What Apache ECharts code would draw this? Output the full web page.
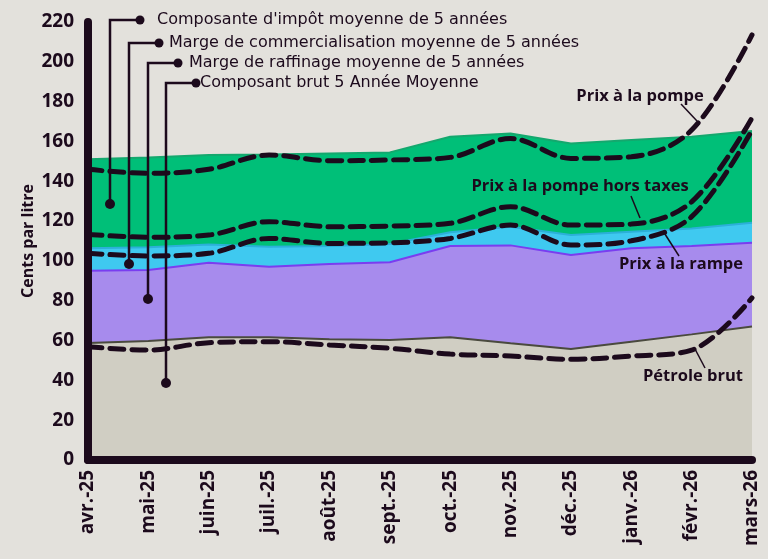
<!DOCTYPE html>
<html>
<head>
<meta charset="utf-8">
<script src="https://cdn.jsdelivr.net/npm/echarts@6/dist/echarts.min.js"></script>
<style>
  html, body { margin: 0; padding: 0; background: #e3e1dc; }
  #chart { width: 768px; height: 559px; }
</style>
</head>
<body>
<div id="chart"></div>
<script>
// categories
const months = ["avr.-25", "mai-25", "juin-25", "juil.-25", "août-25", "sept.-25",
  "oct.-25", "nov.-25", "déc.-25", "janv.-26", "févr.-26", "mars-26"];

// 5-year average components (stacked areas)
const brutMoy = [58.8, 59.8, 61.6, 61.6, 60.6, 60.3, 61.7, 58.6, 55.7, 59.4, 63.1, 67.0];
const raffinageMoy = [36.3, 35.6, 37.5, 35.5, 37.8, 39.0, 45.8, 49.2, 47.3, 46.9, 44.4, 42.1];
const commercMoy = [11.2, 11.4, 9.2, 10.0, 9.1, 9.2, 6.9, 9.4, 10.0, 8.4, 8.8, 10.1];
const impotMoy = [44.7, 45.2, 44.9, 46.4, 46.5, 46.0, 48.0, 46.8, 46.0, 46.0, 46.1, 46.0];

// current prices (dashed lines)
const prixPompe = [146, 144, 146, 153.2, 150.3, 150.7, 152, 161.5, 151.5, 152.3, 165.7, 213.5];
const prixHorsTaxes = [113.3, 111.9, 113, 119.7, 117.2, 117.5, 118.9, 127.2, 118, 118.5, 129.7, 171.8];
const prixRampe = [103.8, 102.5, 103.8, 111.3, 108.8, 109.1, 111.3, 118, 108, 110.1, 122.2, 165.7];
const petroleBrut = [56.9, 55.2, 58.9, 59.4, 57.8, 56.1, 53.2, 52.2, 50.6, 52.2, 55.2, 81.4];

const ink = "#1c0a1c";
const fontFamily = "Open Sans";

let chart = echarts.init(document.getElementById("chart"));

function areaSeries(name, data, fill, edge) {
  return {
    name: name,
    type: "line",
    stack: "moyenne",
    data: data,
    symbol: "none",
    lineStyle: { color: edge, width: 2 },
    areaStyle: { color: fill, opacity: 1 },
    z: 1,
  };
}

function dashSeries(name, data) {
  return {
    name: name,
    type: "line",
    data: data,
    smooth: 0.35,
    symbol: "none",
    lineStyle: { color: ink, width: 5, type: [14, 8], cap: "round" },
    z: 5,
  };
}

// callout for the stacked areas (L-shaped leaders)
function callout(text, tx, dx, ty, vx, by) {
  return [
    {
      type: "polyline",
      shape: { points: [[dx, ty], [vx, ty], [vx, by]] },
      style: { stroke: ink, lineWidth: 2.5, fill: null },
      z: 20,
    },
    { type: "circle", shape: { cx: dx, cy: ty, r: 4.5 }, style: { fill: ink }, z: 20 },
    { type: "circle", shape: { cx: vx, cy: by, r: 5 }, style: { fill: ink }, z: 20 },
    {
      type: "text",
      x: tx,
      y: ty,
      style: { text: text, fill: ink, font: "16px 'DejaVu Sans'", verticalAlign: "middle" },
      z: 20,
    },
  ];
}

function priceLabel(text, x, y, lx1, ly1, lx2, ly2) {
  return [
    {
      type: "line",
      shape: { x1: lx1, y1: ly1, x2: lx2, y2: ly2 },
      style: { stroke: ink, lineWidth: 1.5 },
      z: 20,
    },
    {
      type: "text",
      x: x,
      y: y,
      style: { text: text, fill: ink, font: "bold 16.5px " + fontFamily, align: "center", verticalAlign: "middle" },
      z: 20,
    },
  ];
}

let graphics = []
  .concat(callout("Composante d'impôt moyenne de 5 années", 157, 140, 20, 110, 204))
  .concat(callout("Marge de commercialisation moyenne de 5 années", 169, 159, 43, 129, 264))
  .concat(callout("Marge de raffinage moyenne de 5 années", 189, 178, 63, 148, 299))
  .concat(callout("Composant brut 5 Année Moyenne", 200, 196, 83, 166, 383))
  .concat(priceLabel("Prix à la pompe", 640, 96, 681, 104, 697, 121))
  .concat(priceLabel("Prix à la pompe hors taxes", 580, 186, 631, 196, 640, 218))
  .concat(priceLabel("Prix à la rampe", 681, 264, 663, 231, 679, 256))
  .concat(priceLabel("Pétrole brut", 693, 376, 695, 349, 705, 368));

let option = {
  backgroundColor: "#e3e1dc",
  animation: false,
  textStyle: { fontFamily: fontFamily },
  grid: { left: 88, right: 16, top: 22, bottom: 99 },
  xAxis: {
    type: "category",
    data: months,
    boundaryGap: false,
    axisLine: { lineStyle: { color: ink, width: 8, cap: "round" } },
    axisTick: { show: false },
    axisLabel: {
      rotate: 90,
      color: ink,
      fontWeight: "bold",
      fontSize: 19,
      margin: 10,
      interval: 0,
    },
    splitLine: { show: false },
    z: 10,
  },
  yAxis: {
    type: "value",
    min: 0,
    max: 220,
    interval: 20,
    name: "Cents par litre",
    nameLocation: "middle",
    nameGap: 52,
    nameMoveOverlap: false,
    nameRotate: 90,
    nameTextStyle: { color: ink, fontWeight: "bold", fontSize: 16 },
    axisLine: { show: true, lineStyle: { color: ink, width: 8, cap: "round" } },
    axisTick: { show: false },
    axisLabel: { color: ink, fontWeight: "bold", fontSize: 19, margin: 14 },
    splitLine: { show: false },
    z: 10,
  },
  series: [
    areaSeries("Composant brut 5 Année Moyenne", brutMoy, "#d0cec3", "#4a4a3e"),
    areaSeries("Marge de raffinage moyenne de 5 années", raffinageMoy, "#a78bed", "#7a3df0"),
    areaSeries("Marge de commercialisation moyenne de 5 années", commercMoy, "#3fc9f0", "#2bb0d8"),
    areaSeries("Composante d'impôt moyenne de 5 années", impotMoy, "#00bf78", "#14a86e"),
    dashSeries("Prix à la pompe", prixPompe),
    dashSeries("Prix à la pompe hors taxes", prixHorsTaxes),
    dashSeries("Prix à la rampe", prixRampe),
    dashSeries("Pétrole brut", petroleBrut),
  ],
  graphic: graphics,
};

option && chart.setOption(option);
</script>
</body>
</html>
